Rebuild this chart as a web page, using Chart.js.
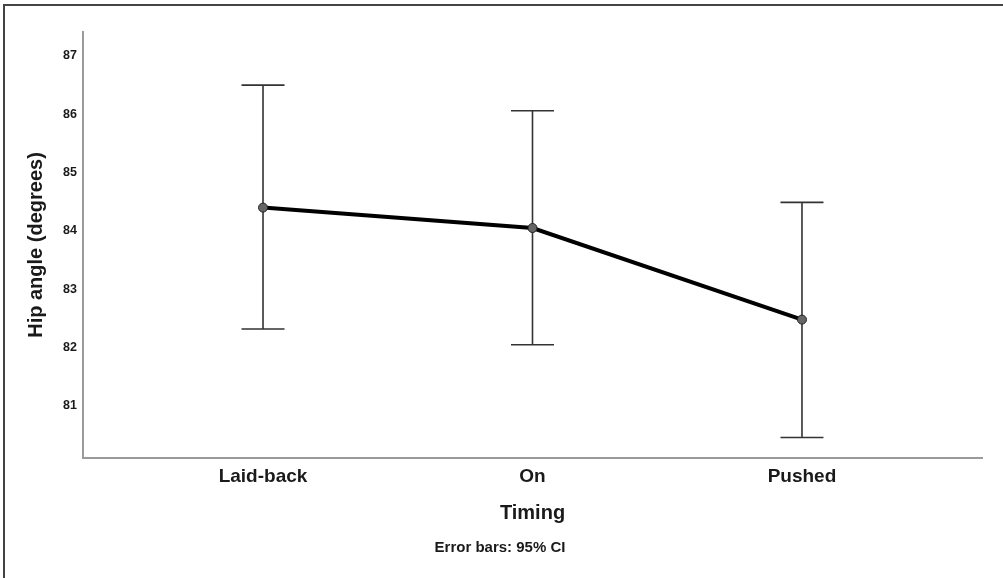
<!DOCTYPE html>
<html>
<head>
<meta charset="utf-8">
<script src="https://cdn.jsdelivr.net/npm/chart.js@4/dist/chart.umd.min.js"></script>
<style>
  html, body { margin: 0; padding: 0; background: #fff; }
  #wrap { position: relative; width: 1003px; height: 578px; overflow: hidden; }
  #frame { position: absolute; left: 3px; top: 4px; width: 1100px; height: 700px;
           border-top: 2px solid #444; border-left: 2px solid #444; }
  canvas { position: absolute; left: 0; top: 0; }
</style>
</head>
<body>
<div id="wrap">
  <div id="frame"></div>
  <canvas id="chart" width="1003" height="578"></canvas>
</div>
<script>
// hodnoty
const categories = ['Laid-back', 'On', 'Pushed'];
const means = [84.40, 84.05, 82.48];
const ciLower = [82.32, 82.05, 80.46];
const ciUpper = [86.50, 86.06, 84.49];
const yTicks = [81, 82, 83, 84, 85, 86, 87];

const textColor = '#1a1a1a';
const fontFamily = '"Liberation Sans", Arial, Helvetica, sans-serif';

// chybové úsečky (95% CI) kreslené přes osy grafu
const errorBars = {
    id: 'errorBars',
    beforeDatasetsDraw(chart) {
        const { ctx, scales: { x, y } } = chart;
        ctx.save();
        ctx.strokeStyle = '#333';
        ctx.lineWidth = 1.6;
        categories.forEach((c, i) => {
            const px = x.getPixelForValue(i);
            const top = y.getPixelForValue(ciUpper[i]);
            const bot = y.getPixelForValue(ciLower[i]);
            ctx.beginPath();
            ctx.moveTo(px, top); ctx.lineTo(px, bot);
            ctx.moveTo(px - 21.5, top); ctx.lineTo(px + 21.5, top);
            ctx.moveTo(px - 21.5, bot); ctx.lineTo(px + 21.5, bot);
            ctx.stroke();
        });
        ctx.restore();
    },
    afterDraw(chart) {
        const ctx = chart.ctx;
        ctx.save();
        ctx.fillStyle = textColor;
        ctx.font = 'bold 15px ' + fontFamily;
        ctx.textAlign = 'center';
        ctx.textBaseline = 'middle';
        ctx.fillText('Error bars: 95% CI', 500, 548);
        ctx.restore();
    }
};

const ctx = document.getElementById('chart').getContext('2d');
new Chart(ctx, {
    type: 'line',
    data: {
        datasets: [{
            data: means.map((m, i) => ({ x: i, y: m })),
            borderColor: '#000',
            borderWidth: 4,
            pointRadius: 4.5,
            pointBackgroundColor: '#666',
            pointBorderColor: '#222',
            pointBorderWidth: 1,
            tension: 0,
            fill: false
        }]
    },
    options: {
        responsive: false,
        animation: false,
        layout: { padding: { left: 0, right: 21, top: 32, bottom: 0 } },
        plugins: {
            legend: { display: false },
            tooltip: { enabled: false }
        },
        scales: {
            x: {
                type: 'linear',
                min: -0.668,
                max: 2.668,
                grid: { display: false, drawTicks: false },
                border: { display: true, color: '#9a9a9a', width: 2 },
                afterBuildTicks: (s) => { s.ticks = categories.map((c, i) => ({ value: i })); },
                afterFit: (s) => { s.height = 120; },
                ticks: {
                    autoSkip: false,
                    maxRotation: 0,
                    padding: 7,
                    color: textColor,
                    font: { family: fontFamily, size: 19, weight: 'bold' },
                    callback: (v) => categories[v]
                },
                title: {
                    display: true,
                    text: 'Timing',
                    color: textColor,
                    font: { family: fontFamily, size: 20, weight: 'bold' },
                    padding: { top: 0, bottom: 53 }
                }
            },
            y: {
                min: 80.108,
                max: 87.41,
                grid: { display: false, drawTicks: false },
                border: { display: true, color: '#9a9a9a', width: 2 },
                afterBuildTicks: (s) => { s.ticks = yTicks.map(v => ({ value: v })); },
                afterFit: (s) => { s.width = 83; },
                ticks: {
                    padding: 6,
                    color: textColor,
                    font: { family: fontFamily, size: 12.5, weight: 'bold' }
                },
                title: {
                    display: true,
                    text: 'Hip angle (degrees)',
                    color: textColor,
                    font: { family: fontFamily, size: 20, weight: 'bold' },
                    padding: { top: 24.5, bottom: 0 }
                }
            }
        }
    },
    plugins: [errorBars]
});
</script>
</body>
</html>
